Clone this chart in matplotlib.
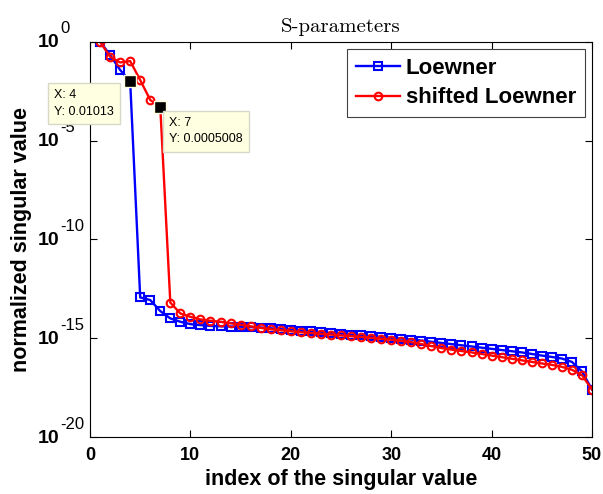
import numpy as np
import matplotlib
matplotlib.use('Agg')
import matplotlib.pyplot as plt

plt.rcParams['font.family'] = ['Liberation Sans', 'DejaVu Sans']

# index of the singular value
idx = np.arange(1, 51)

# log10 of normalized singular values
loewner_exp = [0, -0.67, -1.43, -1.994, -12.94, -13.07, -13.63, -14.0, -14.17, -14.29,
               -14.34, -14.38, -14.40, -14.41, -14.42, -14.44, -14.46, -14.50, -14.54, -14.58,
               -14.62, -14.66, -14.70, -14.74, -14.78, -14.82, -14.86, -14.90, -14.94, -14.98,
               -15.02, -15.07, -15.12, -15.18, -15.24, -15.30, -15.36, -15.42, -15.48, -15.54,
               -15.60, -15.66, -15.72, -15.80, -15.88, -15.95, -16.03, -16.2, -16.68, -17.6]
shifted_exp = [0, -0.76, -1.05, -0.98, -1.94, -2.95, -3.3003, -13.2, -13.75, -13.92,
               -14.05, -14.12, -14.17, -14.25, -14.32, -14.40, -14.48, -14.55, -14.60, -14.65,
               -14.70, -14.74, -14.78, -14.82, -14.86, -14.90, -14.94, -14.98, -15.03, -15.08,
               -15.14, -15.20, -15.30, -15.40, -15.50, -15.58, -15.65, -15.72, -15.80, -15.88,
               -15.96, -16.04, -16.12, -16.20, -16.28, -16.35, -16.45, -16.6, -16.87, -17.6]

loewner = 10.0 ** np.array(loewner_exp)
shifted = 10.0 ** np.array(shifted_exp)

# data tips: (series, index, label text, box offset in pixels)
tips = [(loewner, 4, 'X: 4\nY: 0.01013', (-76, -8)),
        (shifted, 7, 'X: 7\nY: 0.0005008', (9, -10))]

fig = plt.figure(figsize=(6.03, 4.94), dpi=100)
ax = fig.add_axes([90 / 603, 1 - 437 / 494, 502 / 603, (437 - 41.7) / 494])

ax.semilogy(idx, loewner, 'b-s', lw=1.7, ms=6, mfc='none', mew=1.5, label='Loewner')
ax.semilogy(idx, shifted, 'r-o', lw=1.7, ms=5.5, mfc='none', mew=1.5, label='shifted Loewner')

ax.set_xlim(0, 50)
ax.set_ylim(1e-20, 1e0)
ax.set_xticks([0, 10, 20, 30, 40, 50])
ax.set_yticks([1e0, 1e-5, 1e-10, 1e-15, 1e-20])
ax.minorticks_off()
ax.set_yticklabels([])
ax.tick_params(direction='in', top=True, right=True, length=5, width=0.8)
ax.tick_params(axis='x', labelsize=13, pad=7)
for lab in ax.get_xticklabels():
    lab.set_fontweight('bold')

# y tick labels drawn as MATLAB-like 10 with superscript exponent
for e in [0, -5, -10, -15, -20]:
    ax.annotate('10', xy=(0, 10.0 ** e), xycoords=('axes fraction', 'data'),
                xytext=(-31, -1), textcoords='offset pixels', ha='right', va='center',
                fontsize=14, fontweight='bold', annotation_clip=False, zorder=1)
    ax.annotate('%d' % e, xy=(0, 10.0 ** e), xycoords=('axes fraction', 'data'),
                xytext=(-30, 13), textcoords='offset pixels', ha='left', va='center',
                fontsize=12, annotation_clip=False, zorder=1)

ax.set_xlabel('index of the singular value', fontsize=15.5, fontweight='bold', labelpad=4)
ax.set_ylabel('normalized singular value', fontsize=15.5, fontweight='bold', labelpad=38)
ax.set_title('S-parameters', fontname='cmr10', fontsize=15, pad=7)

leg = ax.legend(loc='upper right', prop={'weight': 'bold', 'size': 16},
                fancybox=False, framealpha=1, edgecolor='#404040', borderpad=0.4,
                handlelength=2.0, handletextpad=0.25, labelspacing=0.4,
                borderaxespad=0, bbox_to_anchor=(495 / 502, 1 - 7 / 395))
leg.get_frame().set_linewidth(0.8)

for ser, i, txt, off in tips:
    ax.plot(idx[i - 1], ser[i - 1], 's', color='black', ms=8, mec='#ffffe0', mew=1, zorder=5)
    ax.annotate(txt, xy=(i, ser[i - 1]), xytext=off, textcoords='offset pixels',
                ha='left', va='top', fontsize=9, linespacing=1.5,
                bbox=dict(boxstyle='square,pad=0.5', fc='#ffffe1', ec='#d8d8c8', lw=1),
                annotation_clip=False, zorder=10)

fig.savefig('out.png', dpi=100)
